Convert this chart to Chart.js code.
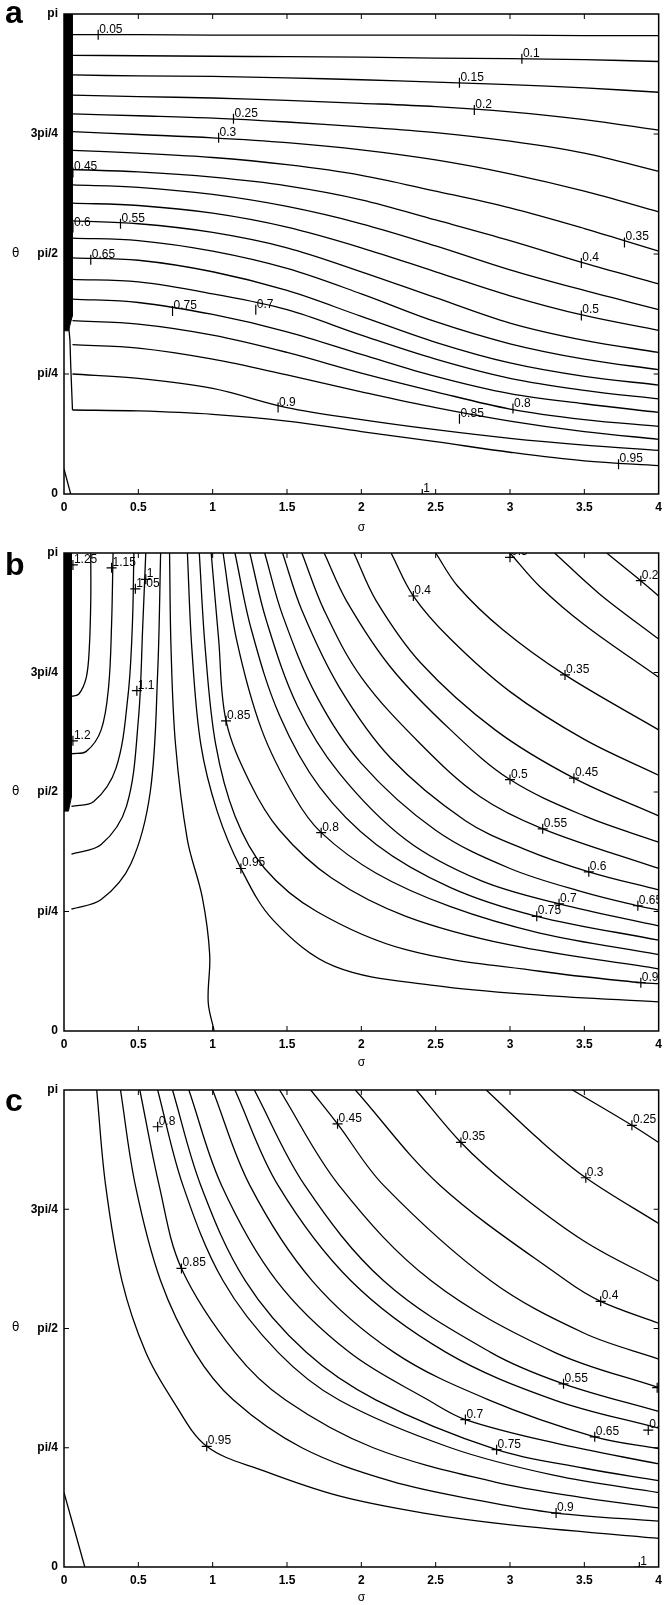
<!DOCTYPE html>
<html>
<head>
<meta charset="utf-8" />
<title>Contours</title>
<style>
  body { margin: 0; background: #fff; }
  .panel { position: absolute; left: 0; width: 668px; height: 535px; }
  .tag { position: absolute; left: 5px; font: bold 32px "Liberation Sans", Arial, sans-serif; color: #000; }
  .phi { position: absolute; left: 12px; font: 12px "DejaVu Sans", sans-serif; color: #000; }
</style>
</head>
<body>
<div class="panel" style="top:0"><canvas id="chartA" width="668" height="535"></canvas></div>
<div class="panel" style="top:535px"><canvas id="chartB" width="668" height="535"></canvas></div>
<div class="panel" style="top:1070px"><canvas id="chartC" width="668" height="535"></canvas></div>
<div class="tag" style="top:-6px">a</div>
<div class="tag" style="top:546px">b</div>
<div class="tag" style="top:1082px">c</div>
<div class="phi" style="top:246px">θ</div>
<div class="phi" style="top:784px">θ</div>
<div class="phi" style="top:1320px">θ</div>

<script src="https://cdn.jsdelivr.net/npm/chart.js@4/dist/chart.umd.min.js"></script>
<script>
// axis ticks (angle in units of pi)
const xTicks = [0, 0.5, 1, 1.5, 2, 2.5, 3, 3.5, 4];
const yTicks = [0, 0.25, 0.5, 0.75, 1];
const yTickLabels = ["0", "pi/4", "pi/2", "3pi/4", "pi"];

// ---- panel a : contours on a common sigma grid ----
const aSigma = [0.057, 0.5, 1, 1.5, 2, 2.5, 3, 3.5, 4];
const aLevels = ["0.05","0.1","0.15","0.2","0.25","0.3","0.35","0.4","0.45","0.5",
                 "0.55","0.6","0.65","0.7","0.75","0.8","0.85","0.9","0.95"];
const aPhi = [
  [0.957,0.957,0.956,0.956,0.956,0.956,0.956,0.955,0.955],
  [0.914,0.913,0.912,0.911,0.910,0.908,0.907,0.905,0.901],
  [0.873,0.871,0.870,0.867,0.863,0.858,0.853,0.846,0.837],
  [0.831,0.828,0.825,0.820,0.814,0.807,0.796,0.780,0.758],
  [0.792,0.788,0.783,0.775,0.765,0.753,0.735,0.710,0.672],
  [0.755,0.749,0.742,0.732,0.717,0.696,0.667,0.631,0.588],
  [0.716,0.710,0.701,0.686,0.664,0.631,0.596,0.553,0.506],
  [0.676,0.671,0.660,0.642,0.613,0.571,0.528,0.481,0.438],
  [0.644,0.639,0.624,0.599,0.563,0.517,0.467,0.424,0.384],
  [0.606,0.601,0.585,0.556,0.513,0.463,0.413,0.372,0.341],
  [0.569,0.563,0.545,0.513,0.463,0.409,0.356,0.320,0.295],
  [0.533,0.528,0.506,0.470,0.417,0.359,0.313,0.281,0.259],
  [0.492,0.487,0.463,0.424,0.370,0.316,0.273,0.245,0.227],
  [0.447,0.442,0.417,0.384,0.331,0.281,0.241,0.216,0.198],
  [0.406,0.399,0.374,0.338,0.291,0.245,0.209,0.188,0.170],
  [0.361,0.354,0.331,0.295,0.252,0.213,0.177,0.155,0.141],
  [0.311,0.304,0.281,0.248,0.213,0.180,0.152,0.130,0.114],
  [0.250,0.241,0.220,0.180,0.155,0.134,0.116,0.102,0.091],
  [0.175,0.173,0.166,0.152,0.130,0.109,0.087,0.069,0.059]
];
// extra pieces in panel a (sigma, angle/pi)
const aEdge95 = [[0.03,0.355],[0.04,0.32],[0.045,0.27],[0.057,0.175]];
const aLevel1 = [[0,0.052],[0.045,0]];
const aBar = [[0,1],[0.055,1],[0.055,0.37],[0.03,0.34],[0,0.34]];
const aLabels = [
  [0.23,0.957,"0.05"],[3.08,0.907,"0.1"],[2.66,0.857,"0.15"],[2.76,0.800,"0.2"],
  [1.14,0.782,"0.25"],[1.04,0.742,"0.3"],[0.06,0.67,"0.45"],[0.06,0.555,"0.6"],
  [0.38,0.563,"0.55"],[0.18,0.488,"0.65"],[3.77,0.524,"0.35"],[3.48,0.481,"0.4"],
  [3.48,0.372,"0.5"],[0.73,0.381,"0.75"],[1.29,0.384,"0.7"],[1.44,0.180,"0.9"],
  [2.66,0.157,"0.85"],[3.02,0.178,"0.8"],[3.73,0.062,"0.95"],[2.41,0.0,"1"]
];

// ---- panel b ----
const bLines = [
  // levels above 1, starting on the left edge
  [[0.05,0.70],[0.1,0.705],[0.15,0.74],[0.17,0.8],[0.18,0.9],[0.18,1]],
  [[0.05,0.58],[0.15,0.585],[0.25,0.63],[0.3,0.72],[0.32,0.85],[0.33,1]],
  [[0.05,0.47],[0.2,0.48],[0.35,0.55],[0.43,0.7],[0.46,0.85],[0.47,1]],
  [[0.05,0.37],[0.25,0.39],[0.42,0.47],[0.5,0.65],[0.53,0.85],[0.55,1]],
  [[0.05,0.255],[0.25,0.275],[0.45,0.35],[0.58,0.5],[0.63,0.75],[0.65,1]],
  // level 1
  [[1.01,0],[0.97,0.06],[0.98,0.16],[0.93,0.28],[0.83,0.4],[0.75,0.6],[0.72,0.8],[0.71,1]],
  // 0.95 ... 0.2
  [[0.83,1],[0.86,0.8],[0.92,0.6],[1.03,0.46],[1.19,0.34],[1.41,0.231],[1.82,0.135],[2.5,0.095],[3.2,0.075],[4,0.061]],
  [[0.91,1],[0.95,0.8],[1.02,0.6],[1.15,0.45],[1.35,0.34],[1.7,0.25],[2.3,0.17],[3.2,0.125],[3.88,0.101],[4,0.099]],
  [[0.99,1],[1.04,0.82],[1.09,0.649],[1.25,0.52],[1.45,0.42],[1.8,0.32],[2.3,0.24],[3,0.18],[4,0.13]],
  [[1.07,1],[1.16,0.82],[1.33,0.63],[1.55,0.49],[1.73,0.415],[2.1,0.33],[2.6,0.26],[3.2,0.205],[4,0.16]],
  [[1.15,1],[1.26,0.84],[1.45,0.66],[1.72,0.51],[2.1,0.39],[2.6,0.3],[3.18,0.24],[4,0.19]],
  [[1.25,1],[1.36,0.86],[1.57,0.68],[1.85,0.54],[2.3,0.4],[2.8,0.315],[3.33,0.266],[4,0.22]],
  [[1.35,1],[1.47,0.87],[1.7,0.7],[2.0,0.56],[2.5,0.42],[3.0,0.34],[3.5,0.29],[3.86,0.262],[4,0.253]],
  [[1.47,1],[1.6,0.88],[1.85,0.72],[2.2,0.57],[2.7,0.44],[3.1,0.38],[3.53,0.333],[4,0.295]],
  [[1.6,1],[1.75,0.88],[2.0,0.74],[2.4,0.6],[2.8,0.49],[3.22,0.423],[4,0.34]],
  [[1.75,1],[1.9,0.9],[2.2,0.76],[2.6,0.63],[3.0,0.526],[3.5,0.45],[4,0.395]],
  [[1.95,1],[2.1,0.9],[2.4,0.77],[2.9,0.63],[3.43,0.529],[4,0.45]],
  [[2.2,1],[2.35,0.91],[2.6,0.82],[3.0,0.71],[3.5,0.61],[4,0.535]],
  [[2.5,1],[2.65,0.93],[2.95,0.84],[3.37,0.745],[4,0.63]],
  [[3.0,1],[3.2,0.93],[3.5,0.85],[4,0.74]],
  [[3.3,1],[3.6,0.915],[4,0.82]],
  [[3.65,1],[3.88,0.942],[4,0.91]]
];
const bBar = [[0,1],[0.05,1],[0.05,0.49],[0.03,0.46],[0,0.46]];
const bLabels = [
  [0.06,0.975,"1.25"],[0.32,0.969,"1.15"],[0.48,0.925,"1.05"],[0.55,0.945,"1"],
  [0.49,0.712,"1.1"],[0.06,0.607,"1.2"],[2.35,0.91,"0.4"],[3.0,0.991,"0.3"],
  [3.88,0.942,"0.2"],[3.37,0.745,"0.35"],[3.0,0.526,"0.5"],[3.43,0.529,"0.45"],
  [3.22,0.423,"0.55"],[3.53,0.333,"0.6"],[3.86,0.262,"0.65"],[3.33,0.266,"0.7"],
  [3.18,0.24,"0.75"],[1.73,0.415,"0.8"],[1.09,0.649,"0.85"],[3.88,0.101,"0.9"],
  [1.19,0.34,"0.95"]
];

// ---- panel c ----
const cLines = [
  [[0,0.156],[0.14,0]],
  [[0.22,1],[0.28,0.8],[0.39,0.6],[0.55,0.45],[0.73,0.35],[0.96,0.253],[1.34,0.202],[1.85,0.149],[2.42,0.113],[2.99,0.089],[4,0.06]],
  [[0.38,1],[0.48,0.8],[0.65,0.6],[0.88,0.45],[1.14,0.35],[1.6,0.25],[2.2,0.18],[2.8,0.139],[3.31,0.113],[4,0.096]],
  [[0.51,1],[0.64,0.8],[0.79,0.626],[1.15,0.45],[1.49,0.35],[2.08,0.25],[2.9,0.178],[3.5,0.145],[4,0.124]],
  [[0.63,1],[0.80,0.8],[1.07,0.6],[1.44,0.45],[1.85,0.35],[2.6,0.25],[3.3,0.192],[4,0.156]],
  [[0.73,1],[0.92,0.8],[1.22,0.6],[1.63,0.45],[2.1,0.35],[2.91,0.246],[3.5,0.207],[4,0.181]],
  [[0.84,1],[1.06,0.8],[1.43,0.6],[1.92,0.45],[2.45,0.35],[2.70,0.309],[3.3,0.26],[4,0.216]],
  [[1.0,1],[1.25,0.8],[1.67,0.6],[2.22,0.45],[2.86,0.35],[3.57,0.273],[4,0.248]],
  [[1.15,1],[1.44,0.8],[1.93,0.6],[2.57,0.45],[3.3,0.35],[4,0.291]],
  [[1.28,1],[1.62,0.8],[2.15,0.6],[2.87,0.45],[3.36,0.384],[4,0.326]],
  [[1.45,1],[1.85,0.8],[2.47,0.6],[3.3,0.45],[4,0.376]],
  [[1.66,1],[1.84,0.929],[2.15,0.8],[2.87,0.6],[3.5,0.49],[4,0.436]],
  [[1.96,1],[2.53,0.8],[3.38,0.6],[3.61,0.557],[4,0.511]],
  [[2.37,1],[2.67,0.89],[2.99,0.8],[3.5,0.683],[4,0.599]],
  [[2.84,1],[3.2,0.895],[3.51,0.816],[4,0.72]],
  [[3.42,1],[3.82,0.926],[4,0.89]]
];
const cLabels = [
  [0.63,0.923,"0.8"],[1.84,0.929,"0.45"],[3.82,0.926,"0.25"],[2.67,0.89,"0.35"],
  [3.51,0.816,"0.3"],[0.79,0.626,"0.85"],[3.61,0.557,"0.4"],[3.36,0.384,"0.55"],
  [2.70,0.309,"0.7"],[0.96,0.253,"0.95"],[3.57,0.273,"0.65"],[2.91,0.246,"0.75"],
  [3.31,0.113,"0.9"],[3.87,0.0,"1"],[3.99,0.376,"0.5"],[3.93,0.287,"0.6"]
];

const FONT = '"Liberation Sans", Arial, sans-serif';

function pts(list) { return list.map(p => ({ x: p[0], y: p[1] })); }

const framePlugin = {
  id: 'frame',
  afterDatasetsDraw(chart, args, opts) {
    const { ctx, chartArea: a, scales } = chart;
    const xs = scales.x, ys = scales.y;
    ctx.save();
    ctx.strokeStyle = '#000';
    ctx.lineWidth = 1.5;
    ctx.strokeRect(a.left, a.top, a.right - a.left, a.bottom - a.top);
    ctx.lineWidth = 1;
    ctx.beginPath();
    xTicks.slice(1, -1).forEach(v => {
      const x = xs.getPixelForValue(v);
      ctx.moveTo(x, a.top); ctx.lineTo(x, a.top + 5);
      ctx.moveTo(x, a.bottom); ctx.lineTo(x, a.bottom - 5);
    });
    yTicks.slice(1, -1).forEach(v => {
      const y = ys.getPixelForValue(v);
      ctx.moveTo(a.left, y); ctx.lineTo(a.left + 5, y);
      ctx.moveTo(a.right, y); ctx.lineTo(a.right - 5, y);
    });
    ctx.stroke();
    // contour level texts, clipped to the plot box
    ctx.beginPath();
    ctx.rect(a.left, a.top, a.right - a.left, a.bottom - a.top + 12);
    ctx.clip();
    ctx.fillStyle = '#000';
    ctx.font = '12px ' + FONT;
    ctx.textAlign = 'left';
    ctx.textBaseline = 'alphabetic';
    (opts.labels || []).forEach(l => {
      const x = xs.getPixelForValue(l[0]);
      const y = ys.getPixelForValue(l[1]);
      ctx.fillText(l[2], x + 1, y - 2);
    });
    ctx.restore();
  }
};

function lineSet(l, tension) {
  return { data: pts(l), showLine: true, borderColor: '#000', borderWidth: 1.3,
           pointRadius: 0, tension: tension, fill: false };
}

function makeChart(id, lines, straight, bar, labels, markStyle, top, bottomH) {
  const datasets = [];
  if (bar) {
    datasets.push({ data: pts(bar), showLine: true, fill: 'shape', backgroundColor: '#000',
      borderColor: '#000', borderWidth: 1, pointRadius: 0, tension: 0 });
  }
  lines.forEach(l => datasets.push(lineSet(l, 0.35)));
  straight.forEach(l => datasets.push(lineSet(l, 0)));
  datasets.push({
    data: labels.map(l => ({ x: l[0], y: l[1] })), showLine: false,
    pointStyle: markStyle, pointRotation: markStyle === 'line' ? 90 : 0,
    pointRadius: 5, borderColor: '#000', borderWidth: 1.2, backgroundColor: '#000'
  });
  return new Chart(document.getElementById(id), {
    type: 'scatter',
    data: { datasets },
    options: {
      responsive: false,
      animation: false,
      events: [],
      layout: { padding: { top: top, right: 4, left: 0, bottom: 0 } },
      plugins: { legend: { display: false }, tooltip: { enabled: false }, frame: { labels } },
      scales: {
        x: {
          type: 'linear', min: 0, max: 4,
          afterBuildTicks: s => { s.ticks = xTicks.map(v => ({ value: v })); },
          afterFit: s => { s.height = bottomH; },
          grid: { display: false, drawTicks: false },
          border: { display: false },
          ticks: { color: '#000', padding: 6, maxRotation: 0, font: { family: FONT, size: 12, weight: 'bold' },
                   callback: v => String(v) },
          title: { display: true, text: 'σ', color: '#000', padding: { top: 0, bottom: 0 },
                   font: { family: FONT, size: 12 } }
        },
        y: {
          type: 'linear', min: 0, max: 1,
          afterBuildTicks: s => { s.ticks = yTicks.map(v => ({ value: v })); },
          afterFit: s => { s.width = 64; },
          grid: { display: false, drawTicks: false },
          border: { display: false },
          ticks: { color: '#000', padding: 6, font: { family: FONT, size: 12, weight: 'bold' },
                   callback: v => yTickLabels[yTicks.indexOf(v)] }
        }
      }
    },
    plugins: [framePlugin]
  });
}

const aLines = aPhi.map(row => row.map((f, j) => [aSigma[j], f]));

makeChart('chartA', aLines, [aEdge95, aLevel1], aBar, aLabels, 'line', 14, 41);
makeChart('chartB', bLines, [], bBar, bLabels, 'cross', 18, 39);
makeChart('chartC', cLines, [], null, cLabels, 'cross', 20, 38);
</script>
</body>
</html>
